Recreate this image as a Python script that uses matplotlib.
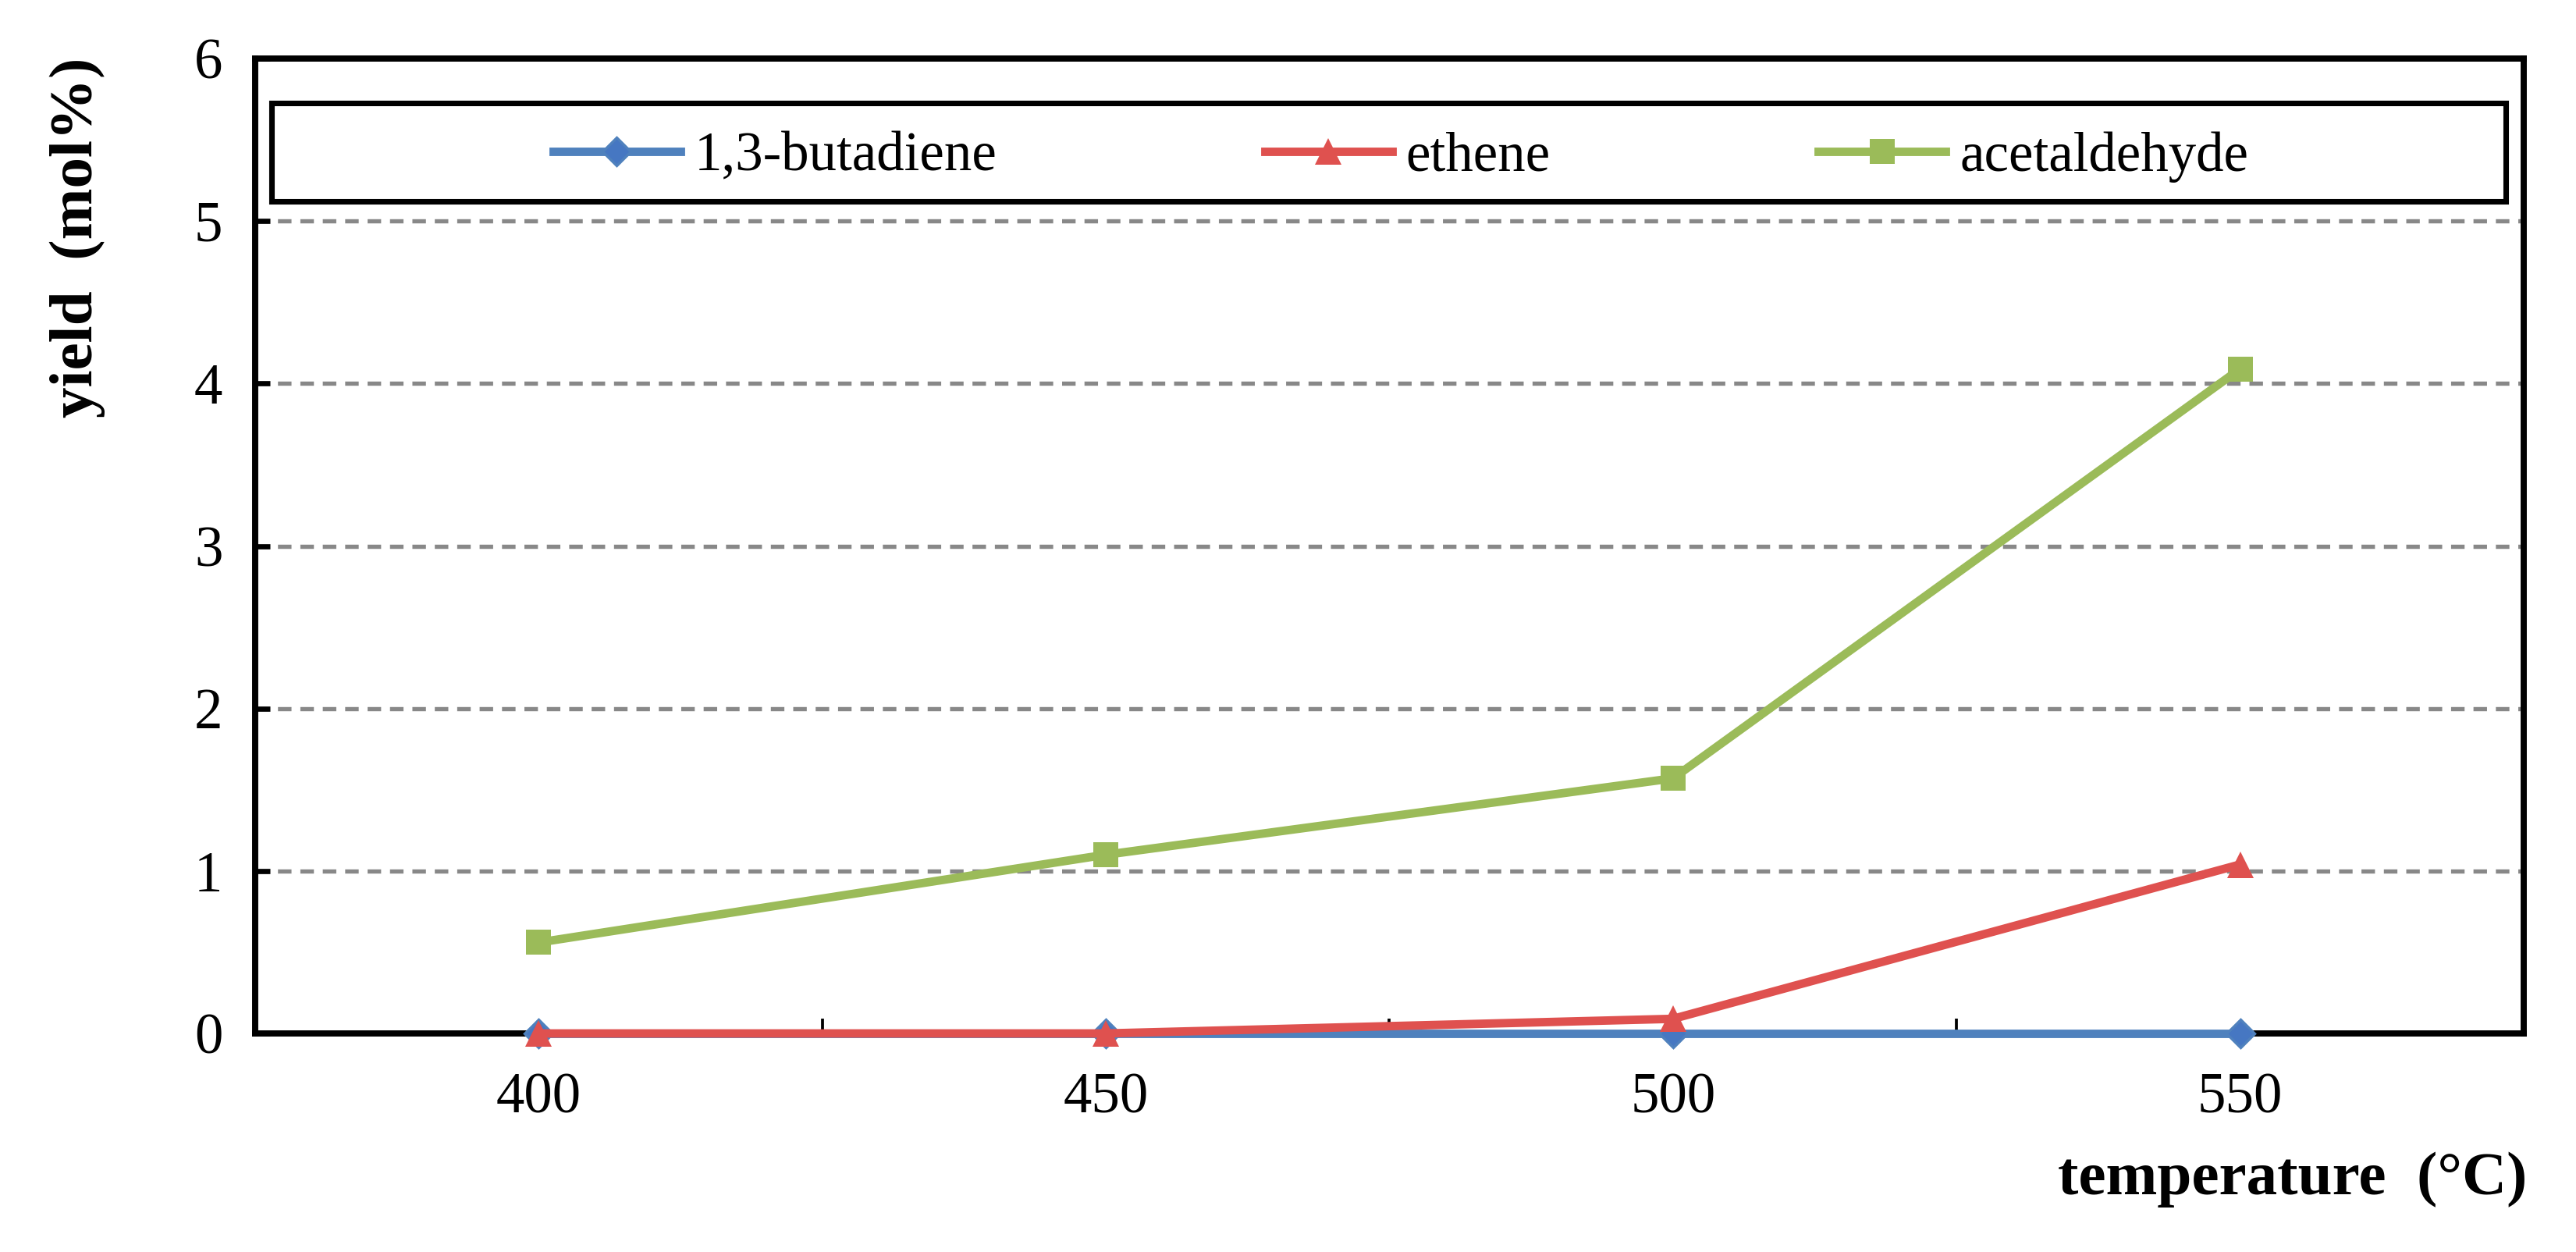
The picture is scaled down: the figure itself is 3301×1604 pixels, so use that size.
import numpy as np
import matplotlib
matplotlib.use("Agg")
import matplotlib.pyplot as plt
from matplotlib.patches import Rectangle

# --- data ---
temperatures = ["400", "450", "500", "550"]
butadiene = [0.0, 0.0, 0.0, 0.0]
ethene = [0.0, 0.0, 0.09, 1.04]
acetaldehyde = [0.56, 1.10, 1.57, 4.09]
y_ticks = [0, 1, 2, 3, 4, 5, 6]

plt.rcParams['font.family'] = ['Liberation Serif', 'DejaVu Serif']

fig = plt.figure(figsize=(3301 / 300, 1604 / 300), dpi=300)
ax = fig.add_axes([327 / 3301, 1 - 1324 / 1604, (3234 - 327) / 3301, (1324 - 75) / 1604])

x = np.arange(len(temperatures))

# lines drawn above the axis spines, like in the original
ax.plot(x, butadiene, color='#4F81BD', lw=2.6, marker='D', ms=6,
        markerfacecolor='#4677C2', markeredgecolor='#4F81BD', markeredgewidth=0.8,
        label='1,3-butadiene', clip_on=False, zorder=3)
ax.plot(x, ethene, color='#DF514F', lw=2.6, marker='^', ms=8,
        markeredgewidth=0, label='ethene', clip_on=False, zorder=3)
ax.plot(x, acetaldehyde, color='#9BBB59', lw=2.6, marker='s', ms=7.5,
        markeredgewidth=0, label='acetaldehyde', clip_on=False, zorder=3)

# axes limits / ticks (category style axis)
ax.set_xlim(-0.5, len(temperatures) - 0.5)
ax.set_ylim(0, 6)
ax.set_yticks(y_ticks)
ax.set_xticks(x + 0.5)
ax.set_xticklabels([])
ax.set_xticks(x, minor=True)
ax.set_xticklabels(temperatures, minor=True)
ax.tick_params(axis='x', which='major', direction='in', length=4.5, width=0.9)
ax.tick_params(axis='x', which='minor', length=0, pad=12, labelsize=17.5)
ax.tick_params(axis='y', direction='in', length=4.5, width=1.6, pad=10, labelsize=17.5)

# dashed horizontal gridlines
for yv in y_ticks[1:-1]:
    ax.axhline(yv, color='#888888', lw=1.3, dashes=(3.2, 2.1), zorder=0)

for sp in ax.spines.values():
    sp.set_linewidth(1.9)
    sp.set_color('black')

# legend: framed box across the top, entries centered
ax.add_patch(Rectangle((0.0072, 0.8535), 0.985, 0.101, transform=ax.transAxes,
                       facecolor='white', edgecolor='black', lw=1.7, zorder=5))
leg = ax.legend(loc='center', bbox_to_anchor=(0.505, 0.899), ncol=3, frameon=False,
                fontsize=17, handlelength=2.3, handletextpad=0.25, columnspacing=4.85,
                numpoints=1)
leg.set_zorder(6)

fig.text(99 / 3301, 1 - 74 / 1604, 'yield  (mol%)', rotation=90, ha='center', va='top',
         fontsize=19, fontweight='bold')
fig.text(3238 / 3301, 1 - 1511 / 1604, 'temperature  (°C)', ha='right', va='center',
         fontsize=19, fontweight='bold')

fig.savefig('out.png', dpi=300)
